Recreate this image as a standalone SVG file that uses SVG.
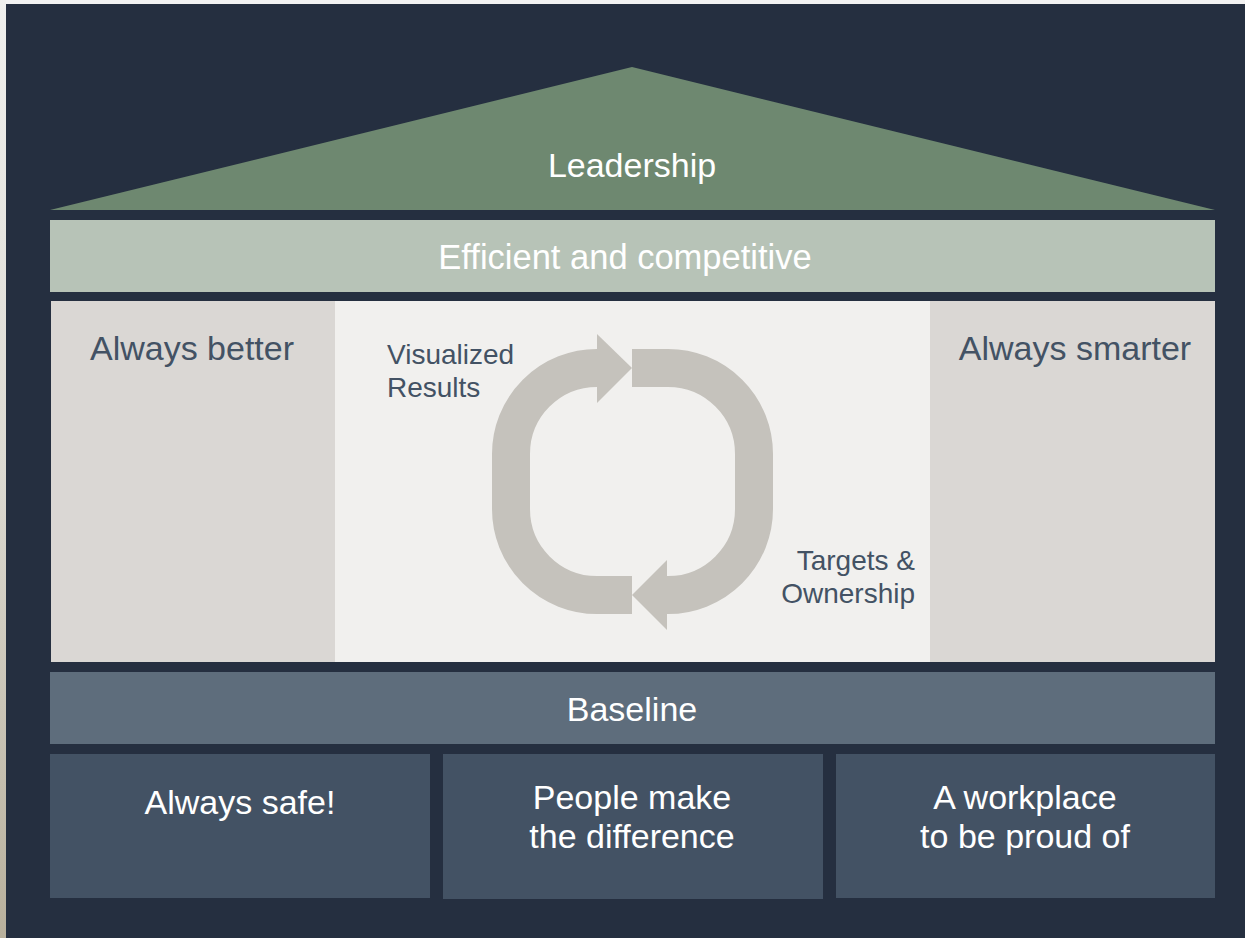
<svg xmlns="http://www.w3.org/2000/svg" width="1245" height="938" viewBox="0 0 1245 938">
<defs>
<linearGradient id="edge" x1="0" y1="0" x2="0" y2="1">
<stop offset="0" stop-color="#f0f0ee"/>
<stop offset="0.5" stop-color="#dcdad2"/>
<stop offset="1" stop-color="#b8b09c"/>
</linearGradient>
</defs>
<style>
.t{font-family:"Liberation Sans",Arial,sans-serif;font-size:34px;text-anchor:middle}
.w{fill:#ffffff}
.d{fill:#435264}
.s{font-family:"Liberation Sans",Arial,sans-serif;font-size:28px;fill:#435264}
.ring{fill:none;stroke:#c5c2bc;stroke-width:38}
.head{fill:#c5c2bc}
</style>
<rect x="0" y="0" width="1245" height="938" fill="#f2f2f2"/>
<rect x="0" y="0" width="6" height="938" fill="url(#edge)"/>
<rect x="6" y="4" width="1239" height="934" fill="#252f40"/>

<g id="leadership">
<polygon points="632,67 1215,210 50,210" fill="#6e8870"/>
<text class="t w" x="632" y="177">Leadership</text>
</g>
<g id="efficient">
<rect x="50" y="220" width="1165" height="72" fill="#b7c3b7"/>
<text class="t w" x="625" y="269" style="font-size:34.5px">Efficient and competitive</text>
</g>
<g id="center">
<rect x="335" y="301" width="595" height="361" fill="#f1f0ee"/>
</g>
<g id="always-better">
<rect x="51" y="301" width="284" height="361" fill="#dad7d4"/>
<text class="t d" x="192" y="360">Always better</text>
</g>
<g id="always-smarter">
<rect x="930" y="301" width="285" height="361" fill="#dad7d4"/>
<text class="t d" x="1075" y="360">Always smarter</text>
</g>
<g id="connectors">
<path class="ring" d="M632,595 H597 A86,86 0 0 1 511,509 V454 A86,86 0 0 1 597,368"/>
<polygon class="head" points="597,334 632,368 597,403"/>
<path class="ring" d="M632,368 H668 A86,86 0 0 1 754,454 V509 A86,86 0 0 1 668,595 H667"/>
<polygon class="head" points="667,560 632,595 667,630"/>
</g>
<g id="visualized-results">
<text class="s" x="387" y="364">Visualized</text>
<text class="s" x="387" y="397">Results</text>
</g>
<g id="targets-ownership">
<text class="s" x="915" y="570" text-anchor="end">Targets &amp;</text>
<text class="s" x="915" y="603" text-anchor="end">Ownership</text>
</g>
<g id="baseline">
<rect x="50" y="672" width="1165" height="72" fill="#5e6d7c"/>
<text class="t w" x="632" y="721">Baseline</text>
</g>
<g id="always-safe">
<rect x="50" y="754" width="380" height="144" fill="#435264"/>
<text class="t w" x="240" y="814">Always safe!</text>
</g>
<g id="people">
<rect x="443" y="754" width="380" height="145" fill="#435264"/>
<text class="t w" x="632" y="809">People make</text>
<text class="t w" x="632" y="848">the difference</text>
</g>
<g id="workplace">
<rect x="836" y="754" width="379" height="144" fill="#435264"/>
<text class="t w" x="1025" y="809">A workplace</text>
<text class="t w" x="1025" y="848">to be proud of</text>
</g>
</svg>
